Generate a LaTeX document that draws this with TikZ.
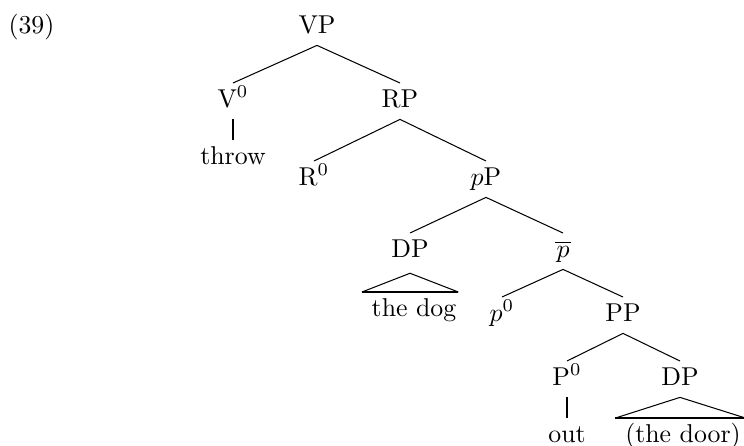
\documentclass[tikz,border=0pt]{standalone}
\begin{document}
\begin{tikzpicture}[x=0.3876pt, y=-0.3876pt, cat node/.style={anchor=base, text height=7pt, text depth=2.5pt, inner sep=2.1pt}, unary/.style={line width=0.7pt}, roof/.style={line width=0.4pt}]
                \useasboundingbox (0,0) rectangle (744,445);

                \node[anchor=base west, inner sep=0pt] at (8, 33) (ex) {(39)};

                \node[cat node] at (317, 33) (VP) {VP};
                \node[cat node] at (233, 107) (V0) {V$^0$};
                \node[cat node] at (233, 164) (throw) {throw};
                \node[cat node] at (400, 107) (RP) {RP};
                \node[cat node] at (314, 185) (R0) {R$^0$};
                \node[cat node] at (486, 185) (pP) {$p$P};
                \node[cat node] at (410, 257) (DPa) {DP};
                \node[cat node] at (414, 316) (dog) {the dog};
                \node[cat node] at (563, 257) (pbar) {$\overline{\mkern1mu p\mkern1mu}$};
                \node[cat node] at (502, 321) (p0) {$p^0$};
                \node[cat node] at (623, 321) (PP) {PP};
                \node[cat node] at (567, 385) (P0) {P$^0$};
                \node[cat node] at (680, 385) (DPb) {DP};
                \node[cat node] at (567, 442) (out) {out};
                \node[cat node] at (683, 442) (door) {(the door)};

                \path (VP.south) edge (V0.north);
                \path (VP.south) edge (RP.north);
                \path (V0.south) edge[unary] (throw.north);
                \path (RP.south) edge (R0.north);
                \path (RP.south) edge (pP.north);
                \path (pP.south) edge (DPa.north);
                \path (pP.south) edge (pbar.north);
                \path (pbar.south) edge (p0.north);
                \path (pbar.south) edge (PP.north);
                \path (PP.south) edge (P0.north);
                \path (PP.south) edge (DPb.north);
                \path (P0.south) edge[unary] (out.north);

                % triangles over the two phrases
                \draw[roof] ([xshift=-1.5pt]dog.north west) -- ([yshift=-1.5pt]DPa.south) -- ([xshift=-1.5pt]dog.north east);
                \draw[unary] ([xshift=-1.5pt]dog.north west) -- ([xshift=-1.5pt]dog.north east);
                \draw[roof] ([xshift=-1.5pt]door.north west) -- (DPb.south) -- ([xshift=-0.5pt]door.north east);
                \draw[unary] ([xshift=-1.5pt]door.north west) -- ([xshift=-0.5pt]door.north east);
            \end{tikzpicture}
\end{document}
